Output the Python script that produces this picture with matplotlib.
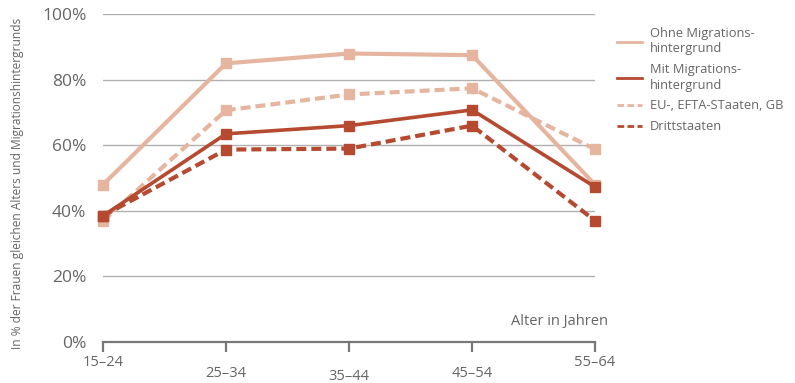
import matplotlib.pyplot as plt

plt.rcParams['font.family'] = ['Open Sans', 'DejaVu Sans']

altersgruppen = ['15–24', '25–34', '35–44', '45–54', '55–64']
ohne_migration = [48, 85, 88, 87.5, 48]
mit_migration = [38.5, 63.5, 66, 70.8, 47.3]
eu_efta = [37, 70.7, 75.5, 77.4, 58.8]
drittstaaten = [38.5, 58.7, 59, 66, 37]
yticks = [0, 20, 40, 60, 80, 100]

hell = '#E6B5A0'
dunkel = '#B54A31'
grau = '#666666'

fig = plt.figure(figsize=(7.95, 3.83), dpi=100)
ax = fig.add_axes([0.1296, 0.107, 0.6189, 0.856])

x = list(range(len(altersgruppen)))
dash = (0, (2.4, 1.2))
ax.plot(x, ohne_migration, color=hell, lw=3, marker='s', ms=6.5, clip_on=False, zorder=3,
        label='Ohne Migrations-\nhintergrund')
ax.plot(x, mit_migration, color=dunkel, lw=2.6, marker='s', ms=6.5, clip_on=False, zorder=5,
        label='Mit Migrations-\nhintergrund')
ax.plot(x, eu_efta, color=hell, lw=3, ls=dash, marker='s', ms=6.5, clip_on=False, zorder=4,
        label='EU-, EFTA-STaaten, GB')
ax.plot(x, drittstaaten, color=dunkel, lw=3, ls=dash, marker='s', ms=6.5, clip_on=False, zorder=4,
        label='Drittstaaten')

ax.set_xlim(0, 4)
ax.set_ylim(0, 100)
ax.set_yticks(yticks)
ax.set_yticklabels([f'{v}%' for v in yticks], color=grau, fontsize=12.5)
ax.tick_params(axis='y', length=0, pad=12)
for v in yticks[1:]:
    ax.axhline(v, color='#b0b0b0', lw=1, zorder=1)
for s in ['top', 'right', 'left']:
    ax.spines[s].set_visible(False)
ax.spines['bottom'].set_color('#777777')
ax.spines['bottom'].set_linewidth(1.6)
ax.set_xticks(x)
ax.set_xticklabels([])
ax.tick_params(axis='x', length=7, width=1.6, color='#777777', direction='out')

# gestaffelte Achsenbeschriftung
versatz = [-14.5, -23, -25, -23, -14.5]
for xi, lab, dy in zip(x, altersgruppen, versatz):
    ax.annotate(lab, xy=(xi, 0), xycoords=('data', 'axes fraction'), xytext=(0, dy),
                textcoords='offset points', ha='center', va='center', fontsize=10.5, color=grau)

ax.annotate('Alter in Jahren', xy=(1, 0), xycoords='axes fraction', xytext=(9, 15),
            textcoords='offset points', ha='right', va='center', fontsize=10.5, color=grau)

fig.text(0.022, 0.52, 'In % der Frauen gleichen Alters und Migrationshintergrunds',
         rotation=90, ha='center', va='center', fontsize=8.6, color=grau)

leg = fig.legend(loc='upper left', bbox_to_anchor=(0.762, 0.96), frameon=False,
                 fontsize=9.3, handlelength=1.9, labelspacing=0.6, handletextpad=0.6)
for t in leg.get_texts():
    t.set_color(grau)
    t.set_linespacing(1.25)
for h in leg.get_lines():
    h.set_linewidth(2)
    h.set_marker('')

fig.savefig('out.png', dpi=100)
